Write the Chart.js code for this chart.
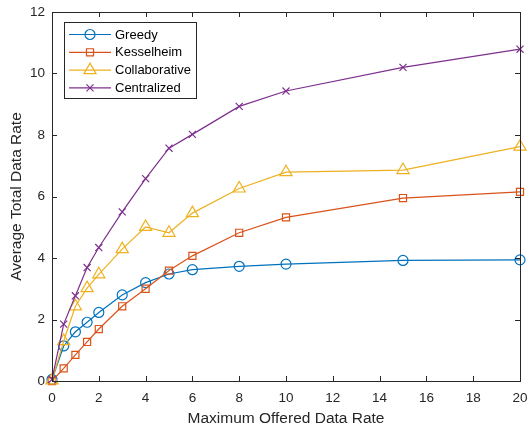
<!DOCTYPE html>
<html>
<head>
<meta charset="utf-8">
<script src="https://cdn.jsdelivr.net/npm/chart.js@4"></script>
<style>
  html, body { margin: 0; padding: 0; background: #fff; }
  #wrap { width: 529px; height: 426px; }
</style>
</head>
<body>
<div id="wrap"><canvas id="grafico" width="529" height="426"></canvas></div>
<script>
const taxaMax = [0, 0.5, 1, 1.5, 2, 3, 4, 5, 6, 8, 10, 15, 20];
const greedy = [0.05, 1.14, 1.6, 1.91, 2.23, 2.8, 3.2, 3.48, 3.62, 3.73, 3.8, 3.92, 3.94];
const kesselheim = [0.0, 0.41, 0.85, 1.27, 1.69, 2.43, 3.0, 3.59, 4.07, 4.82, 5.32, 5.95, 6.15];
const collaborative = [0.02, 1.3, 2.43, 3.02, 3.47, 4.29, 5.01, 4.82, 5.46, 6.26, 6.79, 6.86, 7.62];
const centralized = [0.05, 1.85, 2.77, 3.69, 4.34, 5.5, 6.58, 7.57, 8.02, 8.93, 9.43, 10.2, 10.79];
const nomes = ['Greedy', 'Kesselheim', 'Collaborative', 'Centralized'];
const cores = ['#0072BD', '#D95319', '#EDB120', '#7E2F8E'];
const marcadores = ['circle', 'rect', 'triangle', 'crossRot'];
const raios = [5, 5, 7, 5];

const FONTE = '"Liberation Sans", Arial, Helvetica, sans-serif';
const EIXO = '#262626';

function pares(ys) {
  return taxaMax.map((x, i) => ({ x, y: ys[i] }));
}

// caixa dos eixos com ticks para dentro (estilo matlab)
const caixaEixos = {
  id: 'caixaEixos',
  afterDatasetsDraw(chart) {
    const { ctx, chartArea: a, scales } = chart;
    ctx.save();
    ctx.strokeStyle = EIXO;
    ctx.lineWidth = 1;
    ctx.beginPath();
    scales.x.ticks.forEach(t => {
      const px = Math.round(scales.x.getPixelForValue(t.value)) + 0.5;
      ctx.moveTo(px, a.bottom); ctx.lineTo(px, a.bottom - 5);
      ctx.moveTo(px, a.top); ctx.lineTo(px, a.top + 5);
    });
    scales.y.ticks.forEach(t => {
      const py = Math.round(scales.y.getPixelForValue(t.value)) + 0.5;
      ctx.moveTo(a.left, py); ctx.lineTo(a.left + 5, py);
      ctx.moveTo(a.right, py); ctx.lineTo(a.right - 5, py);
    });
    ctx.stroke();
    ctx.strokeRect(Math.round(a.left) + 0.5, Math.round(a.top) + 0.5,
      Math.round(a.right - a.left), Math.round(a.bottom - a.top));
    ctx.restore();
  }
};

// legenda dentro do grafico, canto superior esquerdo
const legendaInterna = {
  id: 'legendaInterna',
  afterDraw(chart) {
    const { ctx, chartArea: a } = chart;
    const x0 = a.left + 12, y0 = a.top + 10, w = 132, h = 76;
    ctx.save();
    ctx.fillStyle = '#fff';
    ctx.fillRect(x0, y0, w, h);
    ctx.strokeStyle = EIXO;
    ctx.lineWidth = 1;
    ctx.strokeRect(x0 + 0.5, y0 + 0.5, w, h);
    ctx.font = '13px ' + FONTE;
    ctx.textBaseline = 'middle';
    chart.data.datasets.forEach((ds, i) => {
      const yy = y0 + 12.5 + i * 17.8;
      ctx.strokeStyle = ds.borderColor;
      ctx.lineWidth = 1.2;
      ctx.beginPath();
      ctx.moveTo(x0 + 5, yy); ctx.lineTo(x0 + 47, yy);
      ctx.stroke();
      ctx.fillStyle = 'rgba(0,0,0,0)';
      Chart.helpers.drawPoint(ctx, {
        pointStyle: ds.pointStyle, radius: ds.pointRadius, rotation: 0, borderWidth: 1.2
      }, x0 + 26, yy);
      ctx.fillStyle = '#000';
      ctx.fillText(nomes[i], x0 + 51, yy + 0.5);
    });
    ctx.restore();
  }
};

const series = [greedy, kesselheim, collaborative, centralized];

new Chart(document.getElementById('grafico'), {
  type: 'line',
  data: {
    datasets: series.map((ys, i) => ({
      label: nomes[i],
      data: pares(ys),
      borderColor: cores[i],
      backgroundColor: 'rgba(0,0,0,0)',
      pointBackgroundColor: 'rgba(0,0,0,0)',
      pointBorderColor: cores[i],
      pointStyle: marcadores[i],
      pointRadius: raios[i],
      pointBorderWidth: 1.2,
      borderWidth: 1.2,
      tension: 0,
      clip: false,
      order: 4 - i
    }))
  },
  options: {
    responsive: false,
    animation: false,
    layout: { padding: { top: 12, right: 9, left: 0, bottom: 0 } },
    plugins: { legend: { display: false }, tooltip: { enabled: false } },
    scales: {
      x: {
        type: 'linear', min: 0, max: 20,
        border: { display: false },
        grid: { display: false, drawTicks: false },
        ticks: { stepSize: 2, padding: 9, color: EIXO, font: { family: FONTE, size: 13.5 }, maxRotation: 0 },
        title: { display: true, text: 'Maximum Offered Data Rate', color: EIXO,
          font: { family: FONTE, size: 15.5, lineHeight: 1 }, padding: { top: 0, bottom: 0 } },
        afterFit(s) { s.height = 45; s.paddingLeft = 0; s.paddingRight = 0; }
      },
      y: {
        min: 0, max: 12,
        border: { display: false },
        grid: { display: false, drawTicks: false },
        ticks: { stepSize: 2, padding: 7, color: EIXO, font: { family: FONTE, size: 13.5 } },
        title: { display: true, text: 'Average Total Data Rate', color: EIXO,
          font: { family: FONTE, size: 15.5, lineHeight: 1 }, padding: { top: 9, bottom: 0 } },
        afterFit(s) { s.width = 52; s.paddingTop = 0; s.paddingBottom = 0; }
      }
    }
  },
  plugins: [caixaEixos, legendaInterna]
});
</script>
</body>
</html>
